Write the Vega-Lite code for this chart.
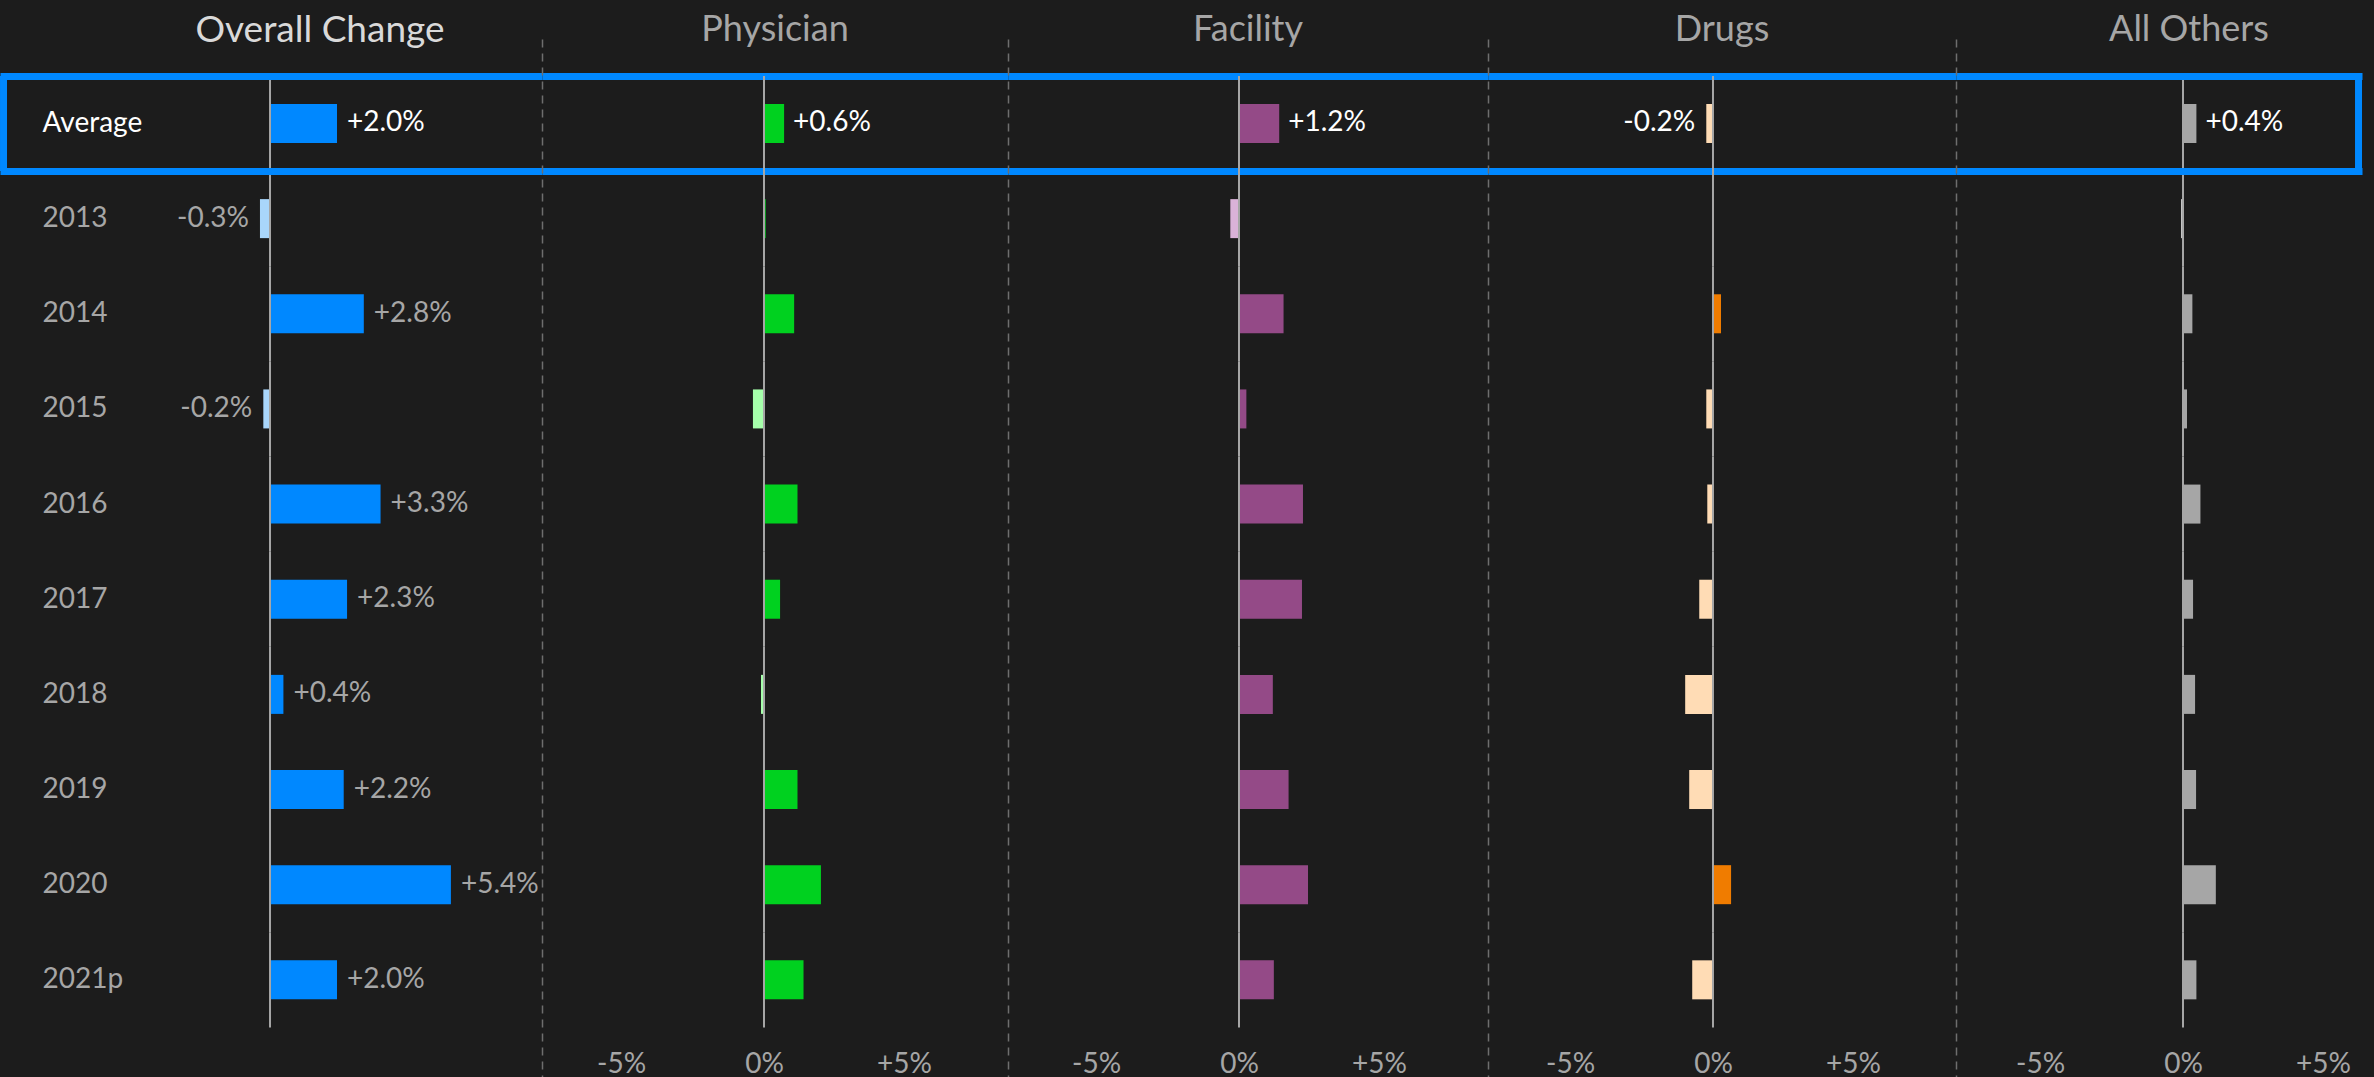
{
  "$schema": "https://vega.github.io/schema/vega-lite/v6.json",
  "background": "#1c1c1c",
  "padding": {"top": 12, "bottom": 0, "left": 0, "right": 12},
  "spacing": 0,
  "datasets": {
    "changes": [
      {"row": "Average", "panel": "Overall Change", "value": 0.020},
      {"row": "2013", "panel": "Overall Change", "value": -0.003},
      {"row": "2014", "panel": "Overall Change", "value": 0.028},
      {"row": "2015", "panel": "Overall Change", "value": -0.002},
      {"row": "2016", "panel": "Overall Change", "value": 0.033},
      {"row": "2017", "panel": "Overall Change", "value": 0.023},
      {"row": "2018", "panel": "Overall Change", "value": 0.004},
      {"row": "2019", "panel": "Overall Change", "value": 0.022},
      {"row": "2020", "panel": "Overall Change", "value": 0.054},
      {"row": "2021p", "panel": "Overall Change", "value": 0.020},
      {"row": "Average", "panel": "Physician", "value": 0.006},
      {"row": "2013", "panel": "Physician", "value": 0.0005},
      {"row": "2014", "panel": "Physician", "value": 0.009},
      {"row": "2015", "panel": "Physician", "value": -0.0033},
      {"row": "2016", "panel": "Physician", "value": 0.010},
      {"row": "2017", "panel": "Physician", "value": 0.0048},
      {"row": "2018", "panel": "Physician", "value": -0.0009},
      {"row": "2019", "panel": "Physician", "value": 0.010},
      {"row": "2020", "panel": "Physician", "value": 0.017},
      {"row": "2021p", "panel": "Physician", "value": 0.0118},
      {"row": "Average", "panel": "Facility", "value": 0.012},
      {"row": "2013", "panel": "Facility", "value": -0.0026},
      {"row": "2014", "panel": "Facility", "value": 0.0133},
      {"row": "2015", "panel": "Facility", "value": 0.0022},
      {"row": "2016", "panel": "Facility", "value": 0.0191},
      {"row": "2017", "panel": "Facility", "value": 0.0188},
      {"row": "2018", "panel": "Facility", "value": 0.0101},
      {"row": "2019", "panel": "Facility", "value": 0.0148},
      {"row": "2020", "panel": "Facility", "value": 0.0206},
      {"row": "2021p", "panel": "Facility", "value": 0.0104},
      {"row": "Average", "panel": "Drugs", "value": -0.002},
      {"row": "2013", "panel": "Drugs", "value": 0.0003},
      {"row": "2014", "panel": "Drugs", "value": 0.0024},
      {"row": "2015", "panel": "Drugs", "value": -0.0020},
      {"row": "2016", "panel": "Drugs", "value": -0.0017},
      {"row": "2017", "panel": "Drugs", "value": -0.0041},
      {"row": "2018", "panel": "Drugs", "value": -0.0083},
      {"row": "2019", "panel": "Drugs", "value": -0.0071},
      {"row": "2020", "panel": "Drugs", "value": 0.0054},
      {"row": "2021p", "panel": "Drugs", "value": -0.0062},
      {"row": "Average", "panel": "All Others", "value": 0.004},
      {"row": "2013", "panel": "All Others", "value": -0.0006},
      {"row": "2014", "panel": "All Others", "value": 0.0028},
      {"row": "2015", "panel": "All Others", "value": 0.0012},
      {"row": "2016", "panel": "All Others", "value": 0.0052},
      {"row": "2017", "panel": "All Others", "value": 0.0030},
      {"row": "2018", "panel": "All Others", "value": 0.0036},
      {"row": "2019", "panel": "All Others", "value": 0.0039},
      {"row": "2020", "panel": "All Others", "value": 0.0098},
      {"row": "2021p", "panel": "All Others", "value": 0.0040}
    ]
  },
  "hconcat": [
    {
      "width": 542, "height": 1040,
      "title": {"text": "Overall Change", "color": "#d9d9d9", "dx": 49, "offset": -25, "fontSize": 37},
      "data": {"name": "changes"},
      "transform": [{"filter": "datum.panel === 'Overall Change'"}],
      "encoding": {
        "y": {
          "field": "row", "type": "nominal", "sort": null,
          "scale": {"domain": ["Average","2013","2014","2015","2016","2017","2018","2019","2020","2021p"], "paddingInner": 0, "paddingOuter": 0.465, "align": 0.417},
          "axis": {"title": null, "domain": false, "ticks": false, "tickSize": 0, "labelAlign": "left", "labelPadding": -42, "labelBaseline": "middle", "labelFont": "Lato", "labelFontSize": 28,
                   "labelColor": {"condition": {"test": "datum.value === 'Average'", "value": "#ffffff"}, "value": "#a6a6a6"},
                   "tickBand": "extent", "grid": true, "gridWidth": 7,
                   "gridColor": {"condition": {"test": "datum.value === 'Average' || datum.value == null", "value": "#0088ff"}, "value": "transparent"}}
        }
      },
      "layer": [
        {
          "transform": [{"filter": "datum.row === 'Average'"}],
          "mark": {"type": "rect", "fill": "transparent", "stroke": "#0088ff", "strokeWidth": 7},
          "encoding": {
            "x": {"datum": -0.07955, "type": "quantitative", "scale": {"domain": [-0.0806, 0.08119], "nice": false, "zero": false}, "axis": null, "title": null},
            "x2": {"datum": -0.07955}
          }
        },
        {
          "mark": {"type": "bar", "height": {"band": 0.41}},
          "encoding": {
            "x": {"field": "value", "type": "quantitative", "scale": {"domain": [-0.0806, 0.08119], "nice": false, "zero": false}, "axis": null, "title": null},
            "color": {"condition": {"test": "datum.value < 0", "value": "#a9d6fb"}, "value": "#0088ff"}
          }
        },
        {
          "mark": {"type": "rect", "fill": "transparent", "stroke": "#a6a6a6", "strokeWidth": 2},
          "encoding": {
            "x": {"datum": 0, "type": "quantitative", "scale": {"domain": [-0.0806, 0.08119], "nice": false, "zero": false}, "axis": null, "title": null},
            "x2": {"datum": 0}
          }
        },
        {
          "transform": [{"filter": "datum.value >= 0"}],
          "mark": {"type": "text", "align": "left", "baseline": "middle", "dx": 10, "font": "Lato", "fontSize": 28},
          "encoding": {
            "x": {"field": "value", "type": "quantitative", "scale": {"domain": [-0.0806, 0.08119], "nice": false, "zero": false}, "axis": null, "title": null},
            "text": {"field": "value", "type": "quantitative", "format": "+.1%"},
            "color": {"condition": {"test": "datum.row === 'Average'", "value": "#ffffff"}, "value": "#a6a6a6"}
          }
        },
        {
          "transform": [{"filter": "datum.value < 0"}],
          "mark": {"type": "text", "align": "right", "baseline": "middle", "dx": -11, "font": "Lato", "fontSize": 28},
          "encoding": {
            "x": {"field": "value", "type": "quantitative", "scale": {"domain": [-0.0806, 0.08119], "nice": false, "zero": false}, "axis": null, "title": null},
            "text": {"field": "value", "type": "quantitative", "format": "+.1%"},
            "color": {"condition": {"test": "datum.row === 'Average'", "value": "#ffffff"}, "value": "#a6a6a6"}
          }
        }
      ]
    },
    {
      "width": 466, "height": 1040,
      "title": {"text": "Physician", "color": "#a6a6a6", "offset": -10},
      "data": {"name": "changes"},
      "transform": [{"filter": "datum.panel === 'Physician'"}],
      "encoding": {
        "y": {
          "field": "row", "type": "nominal", "sort": null,
          "scale": {"domain": ["Average","2013","2014","2015","2016","2017","2018","2019","2020","2021p"], "paddingInner": 0, "paddingOuter": 0.465, "align": 0.417},
          "axis": {"title": null, "labels": false, "ticks": false, "domain": true, "domainColor": "#6e6e6e", "domainWidth": 1.5, "domainDash": [8, 6],
                   "tickBand": "extent", "grid": true, "gridWidth": 7,
                   "gridColor": {"condition": {"test": "datum.value === 'Average' || datum.value == null", "value": "#0088ff"}, "value": "transparent"}}
        }
      },
      "layer": [
        {
          "mark": {"type": "bar", "height": {"band": 0.41}},
          "encoding": {
            "x": {"field": "value", "type": "quantitative", "scale": {"domain": [-0.06627, 0.07284], "nice": false, "zero": false}, "title": null,
                  "axis": {"values": [-0.05, 0, 0.05], "labelExpr": "(datum.value > 0 ? '+' : datum.value < 0 ? '-' : '') + format(abs(datum.value), '.0%')", "title": null, "domain": false, "ticks": false, "tickSize": 0, "grid": false, "labelPadding": 0, "offset": -15, "labelBaseline": "middle", "labelFont": "Lato", "labelFontSize": 28, "labelColor": "#a6a6a6",
                           "labelAlign": {"condition": [{"test": "datum.value < 0", "value": "left"}, {"test": "datum.value > 0", "value": "right"}], "value": "center"}}},
            "color": {"condition": {"test": "datum.value < 0", "value": "#a6ffab"}, "value": "#00d11f"}
          }
        },
        {
          "mark": {"type": "rect", "fill": "transparent", "stroke": "#a6a6a6", "strokeWidth": 2},
          "encoding": {
            "x": {"datum": 0, "type": "quantitative", "scale": {"domain": [-0.06627, 0.07284], "nice": false, "zero": false}, "title": null},
            "x2": {"datum": 0}
          }
        },
        {
          "transform": [{"filter": "datum.row === 'Average' && datum.value >= 0"}],
          "mark": {"type": "text", "align": "left", "baseline": "middle", "dx": 9, "font": "Lato", "fontSize": 28, "color": "#ffffff"},
          "encoding": {
            "x": {"field": "value", "type": "quantitative", "scale": {"domain": [-0.06627, 0.07284], "nice": false, "zero": false}, "title": null},
            "text": {"field": "value", "type": "quantitative", "format": "+.1%"}
          }
        }
      ]
    },
    {
      "width": 480, "height": 1040,
      "title": {"text": "Facility", "color": "#a6a6a6", "offset": -10},
      "data": {"name": "changes"},
      "transform": [{"filter": "datum.panel === 'Facility'"}],
      "encoding": {
        "y": {
          "field": "row", "type": "nominal", "sort": null,
          "scale": {"domain": ["Average","2013","2014","2015","2016","2017","2018","2019","2020","2021p"], "paddingInner": 0, "paddingOuter": 0.465, "align": 0.417},
          "axis": {"title": null, "labels": false, "ticks": false, "domain": true, "domainColor": "#6e6e6e", "domainWidth": 1.5, "domainDash": [8, 6],
                   "tickBand": "extent", "grid": true, "gridWidth": 7,
                   "gridColor": {"condition": {"test": "datum.value === 'Average' || datum.value == null", "value": "#0088ff"}, "value": "transparent"}}
        }
      },
      "layer": [
        {
          "mark": {"type": "bar", "height": {"band": 0.41}},
          "encoding": {
            "x": {"field": "value", "type": "quantitative", "scale": {"domain": [-0.06896, 0.07433], "nice": false, "zero": false}, "title": null,
                  "axis": {"values": [-0.05, 0, 0.05], "labelExpr": "(datum.value > 0 ? '+' : datum.value < 0 ? '-' : '') + format(abs(datum.value), '.0%')", "title": null, "domain": false, "ticks": false, "tickSize": 0, "grid": false, "labelPadding": 0, "offset": -15, "labelBaseline": "middle", "labelFont": "Lato", "labelFontSize": 28, "labelColor": "#a6a6a6",
                           "labelAlign": {"condition": [{"test": "datum.value < 0", "value": "left"}, {"test": "datum.value > 0", "value": "right"}], "value": "center"}}},
            "color": {"condition": {"test": "datum.value < 0", "value": "#dab2d8"}, "value": "#944a87"}
          }
        },
        {
          "mark": {"type": "rect", "fill": "transparent", "stroke": "#a6a6a6", "strokeWidth": 2},
          "encoding": {
            "x": {"datum": 0, "type": "quantitative", "scale": {"domain": [-0.06896, 0.07433], "nice": false, "zero": false}, "title": null},
            "x2": {"datum": 0}
          }
        },
        {
          "transform": [{"filter": "datum.row === 'Average' && datum.value >= 0"}],
          "mark": {"type": "text", "align": "left", "baseline": "middle", "dx": 9, "font": "Lato", "fontSize": 28, "color": "#ffffff"},
          "encoding": {
            "x": {"field": "value", "type": "quantitative", "scale": {"domain": [-0.06896, 0.07433], "nice": false, "zero": false}, "title": null},
            "text": {"field": "value", "type": "quantitative", "format": "+.1%"}
          }
        }
      ]
    },
    {
      "width": 468, "height": 1040,
      "title": {"text": "Drugs", "color": "#a6a6a6", "offset": -10},
      "data": {"name": "changes"},
      "transform": [{"filter": "datum.panel === 'Drugs'"}],
      "encoding": {
        "y": {
          "field": "row", "type": "nominal", "sort": null,
          "scale": {"domain": ["Average","2013","2014","2015","2016","2017","2018","2019","2020","2021p"], "paddingInner": 0, "paddingOuter": 0.465, "align": 0.417},
          "axis": {"title": null, "labels": false, "ticks": false, "domain": true, "domainColor": "#6e6e6e", "domainWidth": 1.5, "domainDash": [8, 6],
                   "tickBand": "extent", "grid": true, "gridWidth": 7,
                   "gridColor": {"condition": {"test": "datum.value === 'Average' || datum.value == null", "value": "#0088ff"}, "value": "transparent"}}
        }
      },
      "layer": [
        {
          "mark": {"type": "bar", "height": {"band": 0.41}},
          "encoding": {
            "x": {"field": "value", "type": "quantitative", "scale": {"domain": [-0.06716, 0.07254], "nice": false, "zero": false}, "title": null,
                  "axis": {"values": [-0.05, 0, 0.05], "labelExpr": "(datum.value > 0 ? '+' : datum.value < 0 ? '-' : '') + format(abs(datum.value), '.0%')", "title": null, "domain": false, "ticks": false, "tickSize": 0, "grid": false, "labelPadding": 0, "offset": -15, "labelBaseline": "middle", "labelFont": "Lato", "labelFontSize": 28, "labelColor": "#a6a6a6",
                           "labelAlign": {"condition": [{"test": "datum.value < 0", "value": "left"}, {"test": "datum.value > 0", "value": "right"}], "value": "center"}}},
            "color": {"condition": {"test": "datum.value < 0", "value": "#ffdcb5"}, "value": "#f07c00"}
          }
        },
        {
          "mark": {"type": "rect", "fill": "transparent", "stroke": "#a6a6a6", "strokeWidth": 2},
          "encoding": {
            "x": {"datum": 0, "type": "quantitative", "scale": {"domain": [-0.06716, 0.07254], "nice": false, "zero": false}, "title": null},
            "x2": {"datum": 0}
          }
        },
        {
          "transform": [{"filter": "datum.row === 'Average' && datum.value < 0"}],
          "mark": {"type": "text", "align": "right", "baseline": "middle", "dx": -11, "font": "Lato", "fontSize": 28, "color": "#ffffff"},
          "encoding": {
            "x": {"field": "value", "type": "quantitative", "scale": {"domain": [-0.06716, 0.07254], "nice": false, "zero": false}, "title": null},
            "text": {"field": "value", "type": "quantitative", "format": "+.1%"}
          }
        }
      ]
    },
    {
      "width": 406, "height": 1040,
      "title": {"text": "All Others", "color": "#a6a6a6", "dx": 30, "offset": -10},
      "data": {"name": "changes"},
      "transform": [{"filter": "datum.panel === 'All Others'"}],
      "encoding": {
        "y": {
          "field": "row", "type": "nominal", "sort": null,
          "scale": {"domain": ["Average","2013","2014","2015","2016","2017","2018","2019","2020","2021p"], "paddingInner": 0, "paddingOuter": 0.465, "align": 0.417},
          "axis": {"title": null, "labels": false, "ticks": false, "domain": true, "domainColor": "#6e6e6e", "domainWidth": 1.5, "domainDash": [8, 6],
                   "tickBand": "extent", "grid": true, "gridWidth": 7,
                   "gridColor": {"condition": {"test": "datum.value === 'Average' || datum.value == null", "value": "#0088ff"}, "value": "transparent"}}
        }
      },
      "layer": [
        {
          "transform": [{"filter": "datum.row === 'Average'"}],
          "mark": {"type": "rect", "fill": "transparent", "stroke": "#0088ff", "strokeWidth": 7},
          "encoding": {
            "x": {"datum": 0.05239, "type": "quantitative", "scale": {"domain": [-0.06776, 0.05343], "nice": false, "zero": false}, "title": null},
            "x2": {"datum": 0.05239}
          }
        },
        {
          "mark": {"type": "bar", "height": {"band": 0.41}},
          "encoding": {
            "x": {"field": "value", "type": "quantitative", "scale": {"domain": [-0.06776, 0.05343], "nice": false, "zero": false}, "title": null,
                  "axis": {"values": [-0.05, 0, 0.05], "labelExpr": "(datum.value > 0 ? '+' : datum.value < 0 ? '-' : '') + format(abs(datum.value), '.0%')", "title": null, "domain": false, "ticks": false, "tickSize": 0, "grid": false, "labelPadding": 0, "offset": -15, "labelBaseline": "middle", "labelFont": "Lato", "labelFontSize": 28, "labelColor": "#a6a6a6",
                           "labelAlign": {"condition": [{"test": "datum.value < 0", "value": "left"}, {"test": "datum.value > 0", "value": "right"}], "value": "center"}}},
            "color": {"condition": {"test": "datum.value < 0", "value": "#c4c4c4"}, "value": "#a6a6a6"}
          }
        },
        {
          "mark": {"type": "rect", "fill": "transparent", "stroke": "#a6a6a6", "strokeWidth": 2},
          "encoding": {
            "x": {"datum": 0, "type": "quantitative", "scale": {"domain": [-0.06776, 0.05343], "nice": false, "zero": false}, "title": null},
            "x2": {"datum": 0}
          }
        },
        {
          "transform": [{"filter": "datum.row === 'Average' && datum.value >= 0"}],
          "mark": {"type": "text", "align": "left", "baseline": "middle", "dx": 9, "font": "Lato", "fontSize": 28, "color": "#ffffff"},
          "encoding": {
            "x": {"field": "value", "type": "quantitative", "scale": {"domain": [-0.06776, 0.05343], "nice": false, "zero": false}, "title": null},
            "text": {"field": "value", "type": "quantitative", "format": "+.1%"}
          }
        }
      ]
    }
  ],
  "config": {
    "view": {"stroke": null},
    "font": "Lato",
    "title": {"font": "Lato", "fontSize": 36, "fontWeight": "normal", "anchor": "middle", "offset": 0},
    "locale": {"number": {"decimal": ".", "thousands": ",", "grouping": [3], "currency": ["$", ""], "minus": "-"}}
  }
}
